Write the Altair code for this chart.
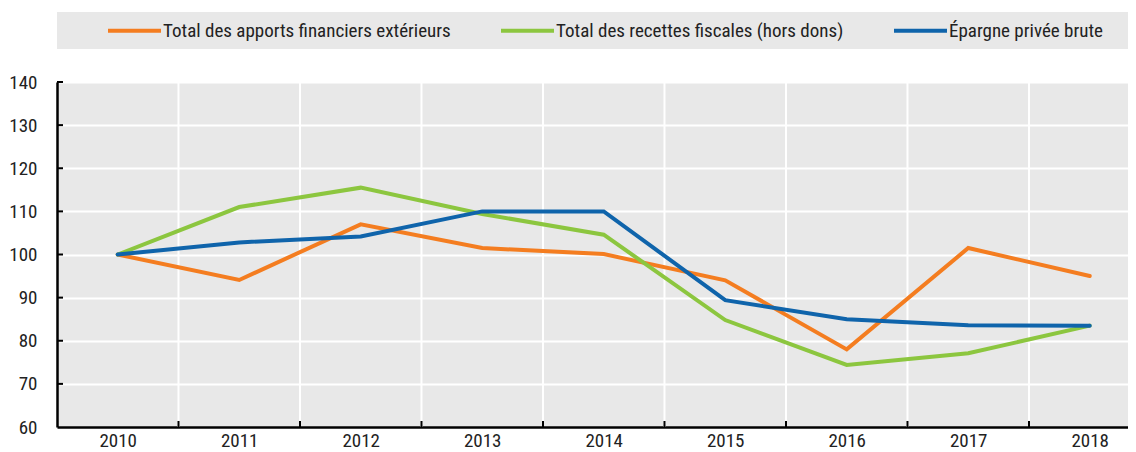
import altair as alt
import pandas as pd

years = [2010, 2011, 2012, 2013, 2014, 2015, 2016, 2017, 2018]
series_names = [
    "Total des apports financiers extérieurs",
    "Total des recettes fiscales (hors dons)",
    "Épargne privée brute",
]
apports = [100, 94.1, 107.0, 101.5, 100.1, 94.0, 78.0, 101.5, 95.0]
recettes = [100, 111.0, 115.5, 109.4, 104.6, 84.8, 74.4, 77.1, 83.5]
epargne = [100, 102.8, 104.2, 110.0, 110.0, 89.4, 85.0, 83.6, 83.5]
colors = ["#F47D20", "#8CC63F", "#0F64AB"]
y_ticks = [60, 70, 80, 90, 100, 110, 120, 130, 140]
x_bounds = [2010.5, 2011.5, 2012.5, 2013.5, 2014.5, 2015.5, 2016.5, 2017.5]

rows = []
for name, vals in zip(series_names, [apports, recettes, epargne]):
    for yr, v in zip(years, vals):
        rows.append({"year": yr, "value": v, "serie": name})
df = pd.DataFrame(rows)

W, H = 1071, 345
FONT = "Liberation Sans Narrow, Arial Narrow, Roboto Condensed, Liberation Sans, sans-serif"

xscale = alt.Scale(domain=[2009.5, 2018.315], nice=False, zero=False)
yscale = alt.Scale(domain=[60, 140], nice=False, zero=False)

x_axis = alt.Axis(values=years, format="d", title=None, grid=False, ticks=False,
                  tickSize=0, labelPadding=4, labelFontSize=19, labelFont=FONT,
                  labelColor="#222222", domainColor="black", domainWidth=2.5)
y_axis = alt.Axis(values=y_ticks, title=None, ticks=False, tickSize=0, labelPadding=20,
                  labelFontSize=19, labelFont=FONT, labelColor="#222222",
                  grid=True, gridColor="white", gridWidth=2,
                  domainColor="black", domainWidth=2.5)

band = alt.Chart(pd.DataFrame({"k": [0]})).mark_rect(color="#e8e8e8").encode(
    x=alt.value(0), x2=alt.value(W), y=alt.value(-70), y2=alt.value(-33)
)

vgrid = alt.Chart(pd.DataFrame({"b": x_bounds})).mark_rule(color="white", strokeWidth=2).encode(
    x=alt.X("b:Q", scale=xscale, axis=x_axis)
)
vticks = alt.Chart(pd.DataFrame({"b": x_bounds})).mark_rule(color="black", strokeWidth=2).encode(
    x=alt.X("b:Q", scale=xscale, axis=x_axis), y=alt.value(H - 6), y2=alt.value(H)
)
hticks = alt.Chart(pd.DataFrame({"t": y_ticks[1:]})).mark_rule(color="black", strokeWidth=2).encode(
    y=alt.Y("t:Q", scale=yscale, axis=y_axis), x=alt.value(0), x2=alt.value(6)
)

lines = alt.Chart(df).mark_line(strokeWidth=4, strokeCap="round", strokeJoin="miter").encode(
    x=alt.X("year:Q", scale=xscale, axis=x_axis),
    y=alt.Y("value:Q", scale=yscale, axis=y_axis),
    color=alt.Color("serie:N", sort=series_names,
                    scale=alt.Scale(domain=series_names, range=colors),
                    legend=alt.Legend(orient="none", legendX=49, legendY=-80, direction="horizontal",
                                      title=None, symbolType="stroke", symbolSize=2809,
                                      symbolStrokeWidth=4, labelFontSize=19, labelFont=FONT,
                                      labelColor="#222222", columnPadding=42, labelOffset=0,
                                      labelLimit=0, padding=0, symbolOffset=0, columns=3)),
    detail="serie:N",
)

chart = alt.layer(band, vgrid, vticks, hticks, lines).properties(
    width=W, height=H,
    autosize=alt.AutoSizeParams(type="none"),
    padding={"left": 49, "top": 74, "right": 0, "bottom": 25},
).configure(font=FONT).configure_view(fill="#e8e8e8", stroke=None)

chart.save("out.html", embed_options={"renderer": "svg", "actions": False})
